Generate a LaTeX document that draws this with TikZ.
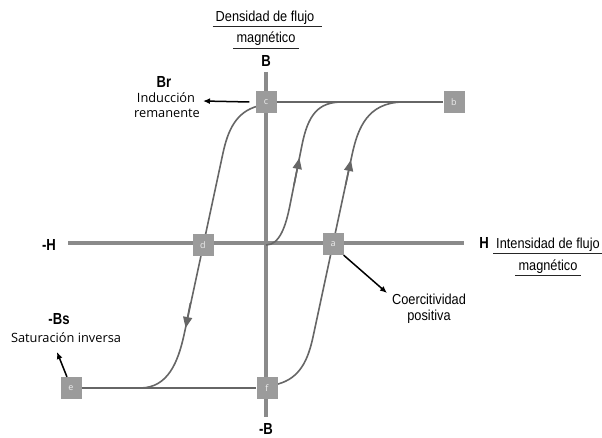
\documentclass[tikz,border=0pt]{standalone}
\usepackage{fontspec}
\usetikzlibrary{arrows.meta,calc}
\setmainfont{Liberation Sans}
\newfontfamily\nar[FakeStretch=0.88]{Liberation Sans}
\newfontfamily\narb[FakeStretch=0.82]{Liberation Sans}
\newfontfamily\osans{Open Sans}
\definecolor{axisgray}{HTML}{8A8A8A}
\definecolor{boxgray}{HTML}{9B9B9B}
\definecolor{curvegray}{HTML}{666666}
\begin{document}
\begin{tikzpicture}[x=1pt,y=-1pt,
  axisline/.style={draw=axisgray, line width=4pt},
  loopline/.style={draw=curvegray, line width=1.6pt},
  flatline/.style={draw=curvegray, line width=2.4pt},
  tri/.style={draw=curvegray, line width=1.6pt, -{Triangle[length=11pt,width=9pt]}},
  note/.style={draw=black, line width=1.5pt, -{Latex[length=7pt,width=6pt]}},
  box/.style={fill=boxgray, minimum width=21pt, minimum height=22pt, inner sep=0pt, text=white!93!black, font=\osans\fontsize{9}{9}\selectfont},
  lbl/.style={font=\nar\fontsize{14.5}{15}\selectfont, inner xsep=3pt, inner ysep=0pt, anchor=base},
  blbl/.style={font=\narb\bfseries\fontsize{16}{16}\selectfont, inner sep=0pt, anchor=base},
  olbl/.style={font=\osans\fontsize{12.8}{13}\selectfont, inner sep=0pt, anchor=base},
  uline/.style={draw=black!85, line width=1pt}
]
\useasboundingbox (0,0) rectangle (602,438);
% axes
\coordinate (hl) at (68,243);
\coordinate (hr) at (464,243);
\coordinate (vt) at (266,72);
\coordinate (vb) at (266,417);
\draw[axisline] (hl) -- (hr);
\draw[axisline] (vt) -- (vb);
% hysteresis branches
\draw[loopline] (278,384) .. controls (300,378) and (308,360) .. (313,337) -- (352,155) .. controls (358,127) and (368,103) .. (402,102);
\draw[loopline] (258,106) .. controls (236,112) and (228,130) .. (223,153) -- (184,335) .. controls (178,362) and (168,388) .. (140,388);
\draw[loopline] (266,245) .. controls (280,245) and (286,225) .. (290,205) -- (302,145) .. controls (308,115) and (318,102) .. (342,102);
% direction arrows
\draw[tri] (345.6,185) -- (350.9,160);
\draw[tri] (294,185) -- (299.4,158);
\draw[tri] (190.4,303) -- (185.6,328);
% boxes
\node[box] (c) at (266,102) {c};
\node[box] (b) at (454,102) {b};
\node[box] (a) at (333,244) {a};
\node[box] (d) at (203,245) {d};
\node[box] (e) at (71,388) {e};
\node[box] (f) at (267,388) {f};
\draw[flatline] (c) -- (b);
\draw[flatline] (e) -- (f);
% annotation arrows
\coordinate (brtip) at (203,101);
\draw[note] ([xshift=-6pt]c.west) -- (brtip);
\coordinate (cotip) at (387,293);
\draw[note] (a.south east) -- (cotip);
\coordinate (bstip) at (57,352);
\draw[note] (e.110) -- (bstip);
% labels
\node[lbl] (dens) at (265,22) {Densidad de flujo};
\node[lbl] (magb) at (266,43) {magnético};
\draw[uline] ($(dens.base west)+(0,5)$) -- ($(dens.base east)+(4,5)$);
\draw[uline] ($(magb.base west)+(0,6)$) -- ($(magb.base east)+(0,6)$);
\node[blbl] (Blab) at (266,67) {B};
\node[blbl] (mBlab) at (266,434) {-B};
\node[blbl] (mHlab) at (49,251) {-H};
\node[blbl] (Hlab) at (484,249) {H};
\node[lbl] (ints) at (548,249) {Intensidad de flujo};
\node[lbl] (magh) at (548,270) {magnético};
\draw[uline] ($(ints.base west)+(0,5)$) -- ($(ints.base east)+(0,5)$);
\draw[uline] ($(magh.base west)+(0,6)$) -- ($(magh.base east)+(0,6)$);
\node[blbl] (brlab) at (164,88) {Br};
\node[olbl] (ind) at (166,103) {Inducción};
\node[olbl] (rem) at (167,118) {remanente};
\node[blbl] (bslab) at (59,324) {-Bs};
\node[olbl] (sat) at (66,342) {Saturación inversa};
\node[lbl] (coer) at (429,305) {Coercitividad};
\node[lbl] (pos) at (429,320) {positiva};
\end{tikzpicture}
\end{document}
